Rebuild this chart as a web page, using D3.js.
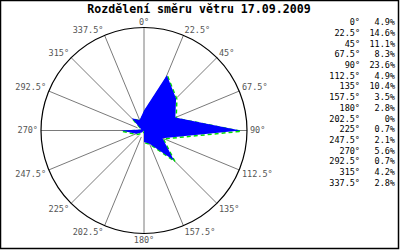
<!DOCTYPE html>
<html>
<head>
<meta charset="utf-8">
<script src="https://cdn.jsdelivr.net/npm/d3@7"></script>
<style>
  body { margin: 0; background: #fff; }
  svg { display: block; }
</style>
</head>
<body>
<svg id="chart" width="400" height="250"></svg>
<script>
// wind direction data
const title = "Rozdělení směru větru 17.09.2009";
const directions = [0, 22.5, 45, 67.5, 90, 112.5, 135, 157.5, 180, 202.5, 225, 247.5, 270, 292.5, 315, 337.5];
const percents = [4.9, 14.6, 11.1, 8.3, 23.6, 4.9, 10.4, 3.5, 2.8, 0, 0.7, 2.1, 5.6, 0.7, 4.2, 2.8];
const dirLabels = ["0°", "22.5°", "45°", "67.5°", "90°", "112.5°", "135°", "157.5°", "180°", "202.5°", "225°", "247.5°", "270°", "292.5°", "315°", "337.5°"];
const pctLabels = ["4.9%", "14.6%", "11.1%", "8.3%", "23.6%", "4.9%", "10.4%", "3.5%", "2.8%", "0%", "0.7%", "2.1%", "5.6%", "0.7%", "4.2%", "2.8%"];

const svg = d3.select("#chart");
const font = "'DejaVu Sans Mono', monospace";

const cx = 144, cy = 130.5, R = 103;

var r = d3.scaleLinear()
    .domain([0, 25.2])
    .range([0, R]);

var ang = d3.scaleLinear()
    .domain([0, 360])
    .range([0, 2 * Math.PI]);

// frame
svg.append("rect")
    .attr("x", 0.5).attr("y", 0.5)
    .attr("width", 398).attr("height", 248)
    .attr("fill", "none")
    .attr("stroke", "#000")
    .attr("stroke-width", 1.5);

svg.append("text")
    .attr("x", 199)
    .attr("y", 12.5)
    .attr("text-anchor", "middle")
    .attr("font-family", font)
    .attr("font-weight", "bold")
    .attr("font-size", 11.6)
    .attr("fill", "#000")
    .text(title);

const g = svg.append("g").attr("transform", "translate(" + cx + "," + cy + ")");

// spokes
g.selectAll(".spoke")
    .data(directions)
    .enter()
    .append("line")
    .attr("class", "spoke")
    .attr("x1", function(d) { return (d % 90 === 0 ? 0 : 7) * Math.sin(ang(d)); })
    .attr("y1", function(d) { return -(d % 90 === 0 ? 0 : 7) * Math.cos(ang(d)); })
    .attr("x2", function(d) { return R * Math.sin(ang(d)); })
    .attr("y2", function(d) { return -R * Math.cos(ang(d)); })
    .attr("stroke", "#7a7a7a")
    .attr("stroke-width", 1);

g.append("circle")
    .attr("r", R)
    .attr("fill", "none")
    .attr("stroke", "#000")
    .attr("stroke-width", 1.2);

// rose polygon
const radial = d3.lineRadial()
    .angle(function(d, i) { return ang(directions[i]); })
    .radius(function(d) { return r(d); })
    .curve(d3.curveLinearClosed);

g.append("path")
    .attr("d", radial(percents))
    .attr("transform", "translate(0.8,0.8)")
    .attr("fill", "none")
    .attr("stroke", "#00e000")
    .attr("stroke-width", 1.5)
    .attr("stroke-dasharray", "4,3");

g.append("path")
    .attr("d", radial(percents))
    .attr("fill", "#0000ff")
    .attr("stroke", "none");

// direction labels around the circle
g.selectAll(".dirlabel")
    .data(directions)
    .enter()
    .append("text")
    .attr("class", "dirlabel")
    .attr("x", function(d) { return (R + 3) * Math.sin(ang(d)); })
    .attr("y", function(d) { return -(R + 3) * Math.cos(ang(d)); })
    .attr("text-anchor", function(d) {
        const s = Math.sin(ang(d));
        return s > 0.1 ? "start" : (s < -0.1 ? "end" : "middle");
    })
    .attr("dy", function(d) {
        const c = Math.cos(ang(d));
        return c > 0.1 ? "0em" : (c < -0.1 ? "0.75em" : "0.35em");
    })
    .attr("font-family", font)
    .attr("font-size", 8.5)
    .attr("fill", "#555")
    .text(function(d, i) { return dirLabels[i]; });

// legend on the right
var ly = d3.scaleBand()
    .domain(d3.range(directions.length))
    .range([17, 188]);

const legend = svg.append("g");
legend.selectAll(".ldir")
    .data(dirLabels)
    .enter()
    .append("text")
    .attr("x", 360)
    .attr("y", function(d, i) { return ly(i) + ly.bandwidth() / 2; })
    .attr("dy", "0.35em")
    .attr("text-anchor", "end")
    .attr("font-family", font)
    .attr("font-size", 8.5)
    .attr("fill", "#000")
    .text(function(d) { return d; });

legend.selectAll(".lpct")
    .data(pctLabels)
    .enter()
    .append("text")
    .attr("x", 395)
    .attr("y", function(d, i) { return ly(i) + ly.bandwidth() / 2; })
    .attr("dy", "0.35em")
    .attr("text-anchor", "end")
    .attr("font-family", font)
    .attr("font-size", 8.5)
    .attr("fill", "#000")
    .text(function(d) { return d; });
</script>
</body>
</html>
